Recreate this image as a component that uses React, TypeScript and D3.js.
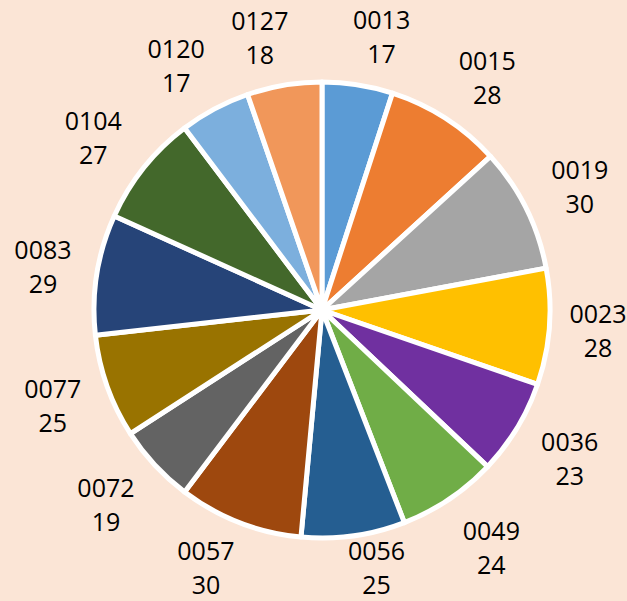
import React, { useEffect, useRef } from "react";
import * as d3 from "d3";

// 코드별 값
const codes = ["0013", "0015", "0019", "0023", "0036", "0049", "0056", "0057", "0072", "0077", "0083", "0104", "0120", "0127"];
const values = [17, 28, 30, 28, 23, 24, 25, 30, 19, 25, 29, 27, 17, 18];
const colors = [
  "#5B9BD5", "#ED7D31", "#A5A5A5", "#FFC000", "#7030A0", "#70AD47", "#255E91",
  "#9E480E", "#636363", "#997300", "#264478", "#43682B", "#7CAFDD", "#F1975A",
];

interface Slice {
  code: string;
  value: number;
  color: string;
}

const App: React.FC = () => {
  const svgRef = useRef<SVGSVGElement>(null);
  const width = 627;
  const height = 601;

  useEffect(() => {
    if (!svgRef.current) return;
    const data: Slice[] = codes.map((c, i) => ({ code: c, value: values[i], color: colors[i] }));

    const svg = d3.select(svgRef.current);
    svg.selectAll("*").remove();

    svg.append("rect").attr("width", width).attr("height", height).attr("fill", "#FBE5D6");

    const cx = 322;
    const cy = 310;
    const radius = 228;

    const g = svg.append("g").attr("transform", `translate(${cx}, ${cy})`);

    const pie = d3
      .pie<Slice>()
      .sort(null)
      .value((d) => d.value);
    const arcs = pie(data);

    const arc = d3.arc<d3.PieArcDatum<Slice>>().innerRadius(0).outerRadius(radius);

    g.selectAll("path")
      .data(arcs)
      .join("path")
      .attr("d", arc)
      .attr("fill", (d) => d.data.color)
      .attr("stroke", "#fff")
      .attr("stroke-width", 5)
      .attr("stroke-linejoin", "round");

    // 라벨 (바깥쪽, 영역 안으로 제한)
    const rx = 280;
    const ryTop = 276;
    const ryBottom = 287;
    const extra = 16;
    const halfW = 28;
    const lineGap = 34;

    arcs.forEach((d) => {
      const mid = (d.startAngle + d.endAngle) / 2;
      const ux = Math.sin(mid);
      const uy = -Math.cos(mid);
      let lx = cx + rx * ux + extra * Math.sign(ux) * Math.abs(uy);
      let ly = cy + (uy < 0 ? ryTop : ryBottom) * uy;
      lx = Math.max(halfW + 2, Math.min(width - 1 - halfW, lx));
      ly = Math.min(height - 7 - 26, ly);

      const text = svg
        .append("text")
        .attr("text-anchor", "middle")
        .style("font-family", "'Open Sans', 'Noto Sans', sans-serif")
        .style("font-size", "25px")
        .style("fill", "#000");
      text.append("tspan").attr("x", lx).attr("y", ly - 8).text(d.data.code);
      text.append("tspan").attr("x", lx).attr("y", ly - 8 + lineGap).text(String(d.data.value));
    });
  }, []);

  return (
    <svg
      ref={svgRef}
      width={width}
      height={height}
      style={{ position: "absolute", left: 0, top: 0, display: "block" }}
    />
  );
};

export default App;
